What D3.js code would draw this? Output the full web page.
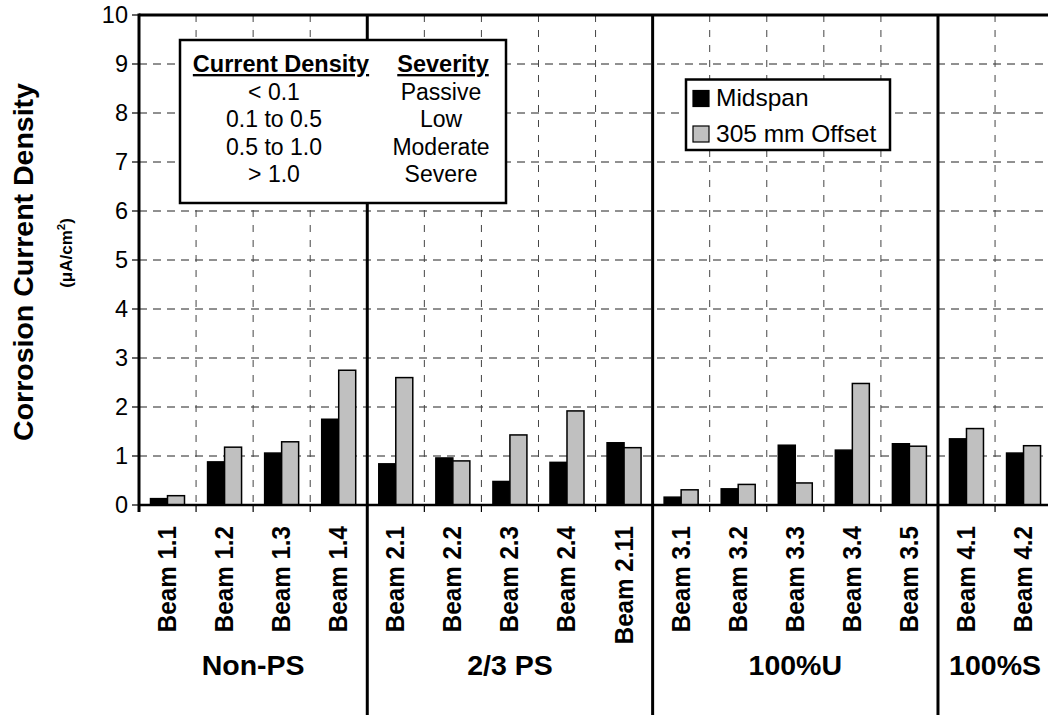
<!DOCTYPE html>
<html><head><meta charset="utf-8">
<script src="https://cdn.jsdelivr.net/npm/d3@7"></script>
<style>
html,body{margin:0;padding:0;background:#fff;}
svg{display:block;font-family:"Liberation Sans",Arial,sans-serif;}
</style></head>
<body><svg id="c" width="1048" height="715"></svg>
<script>
const categories = ["Beam 1.1","Beam 1.2","Beam 1.3","Beam 1.4","Beam 2.1","Beam 2.2","Beam 2.3","Beam 2.4","Beam 2.11","Beam 3.1","Beam 3.2","Beam 3.3","Beam 3.4","Beam 3.5","Beam 4.1","Beam 4.2"];
const groupNames = ["Non-PS","2/3 PS","100%U","100%S"];
const groupSizes = [4,5,5,2];
const seriesNames = ["Midspan","305 mm Offset"];
const midspan = [0.13,0.88,1.06,1.75,0.84,0.96,0.48,0.87,1.27,0.16,0.33,1.22,1.12,1.25,1.35,1.06];
const offset305 = [0.19,1.18,1.29,2.75,2.60,0.90,1.43,1.92,1.17,0.31,0.42,0.45,2.48,1.20,1.56,1.21];
const yTicks = [0,1,2,3,4,5,6,7,8,9,10];
const tableHeaders = ["Current Density","Severity"];
const densityRanges = ["< 0.1","0.1 to 0.5","0.5 to 1.0","> 1.0"];
const severities = ["Passive","Low","Moderate","Severe"];
const colors = ["#000000","#c0c0c0"];

const svg = d3.select("#c");
const L = 139, T = 15, B = 505, W = 57.07;
const R = L + W*categories.length;
const x = d3.scaleBand().domain(categories).range([L, R]).padding(0);
const x1 = d3.scaleBand().domain(seriesNames).range([11.5, 45.5]).padding(0);
const y = d3.scaleLinear().domain([0,10]).range([B, T]);

const groupStarts = [];
let acc = 0;
groupSizes.forEach(n => { groupStarts.push(acc); acc += n; });
const boundaryIdx = new Set(groupStarts.slice(1));

// horizontal dashed grid
svg.append("g").selectAll("line").data(yTicks.filter(t => t > 0 && t < 10)).join("line")
  .attr("x1", L).attr("x2", R).attr("y1", d => y(d)).attr("y2", d => y(d))
  .attr("stroke", "#222").attr("stroke-width", 1).attr("stroke-dasharray", "8,6");

// vertical dashed grid
const inner = d3.range(1, categories.length).filter(i => !boundaryIdx.has(i));
svg.append("g").selectAll("line").data(inner).join("line")
  .attr("x1", i => x(categories[i])).attr("x2", i => x(categories[i]))
  .attr("y1", T).attr("y2", B)
  .attr("stroke", "#444").attr("stroke-width", 1).attr("stroke-dasharray", "7,8");

// bars
const data = categories.map((c, i) => ({c, vals: [midspan[i], offset305[i]]}));
const g = svg.append("g").selectAll("g").data(data).join("g")
  .attr("transform", d => `translate(${x(d.c)},0)`);
g.selectAll("rect").data(d => d.vals.map((v, k) => ({k, v}))).join("rect")
  .attr("x", d => x1(seriesNames[d.k]))
  .attr("width", x1.bandwidth())
  .attr("y", d => y(d.v))
  .attr("height", d => B - y(d.v))
  .attr("fill", d => colors[d.k])
  .attr("stroke", "#000").attr("stroke-width", 1.5);

// x ticks
svg.append("g").selectAll("line").data(inner).join("line")
  .attr("x1", i => x(categories[i])).attr("x2", i => x(categories[i]))
  .attr("y1", B).attr("y2", B + 7).attr("stroke", "#000").attr("stroke-width", 1.2);

// axis lines
svg.append("line").attr("x1", L).attr("x2", R).attr("y1", B).attr("y2", B).attr("stroke", "#000").attr("stroke-width", 2.5);
svg.append("line").attr("x1", L).attr("x2", R).attr("y1", T).attr("y2", T).attr("stroke", "#000").attr("stroke-width", 3);
svg.append("line").attr("x1", L).attr("x2", L).attr("y1", T - 1.5).attr("y2", B + 7).attr("stroke", "#000").attr("stroke-width", 3);

// group dividers
svg.append("g").selectAll("line").data(groupStarts.slice(1)).join("line")
  .attr("x1", i => x(categories[i])).attr("x2", i => x(categories[i]))
  .attr("y1", T).attr("y2", 715).attr("stroke", "#000").attr("stroke-width", 3);

// y ticks
const ya = svg.append("g");
ya.selectAll("line").data(yTicks).join("line")
  .attr("x1", L - 7).attr("x2", L).attr("y1", d => y(d)).attr("y2", d => y(d))
  .attr("stroke", "#000").attr("stroke-width", 1.2);
ya.selectAll("text").data(yTicks).join("text")
  .attr("x", L - 11).attr("y", d => y(d)).attr("dy", "0.36em")
  .attr("text-anchor", "end").attr("font-size", 23.5).text(d => d);

// category labels
svg.append("g").selectAll("text").data(categories).join("text")
  .attr("transform", d => `translate(${x(d) + W/2 - 1},526) rotate(-90) scale(1,1.08)`)
  .attr("dy", "0.36em").attr("text-anchor", "end")
  .attr("font-size", 24.2).attr("font-weight", "bold").text(d => d);

// group labels
svg.append("g").selectAll("text").data(groupNames).join("text")
  .attr("x", (d, i) => {
    const a = x(categories[groupStarts[i]]);
    const b = x(categories[groupStarts[i] + groupSizes[i] - 1]) + W;
    return (a + b) / 2;
  })
  .attr("y", 675).attr("text-anchor", "middle")
  .attr("font-size", 28.5).attr("font-weight", "bold").text(d => d);

// y title
svg.append("text").attr("transform", "translate(33,262) rotate(-90)")
  .attr("text-anchor", "middle").attr("font-size", 28.5).attr("font-weight", "bold")
  .text("Corrosion Current Density");
const sub = svg.append("text").attr("transform", "translate(72,253) rotate(-90)")
  .attr("text-anchor", "middle").attr("font-size", 17).attr("font-weight", "bold");
sub.append("tspan").text("(\u03BCA/cm");
sub.append("tspan").attr("font-size", 11.5).attr("dy", -7).text("2");
sub.append("tspan").attr("dy", 7).text(")");

// severity table
const tb = svg.append("g");
tb.append("rect").attr("x", 180).attr("y", 40).attr("width", 326).attr("height", 163)
  .attr("fill", "#fff").attr("stroke", "#000").attr("stroke-width", 2.5);
const colX = [281, 443];
tableHeaders.forEach((h, i) => {
  tb.append("text").attr("x", colX[i]).attr("y", 72).attr("text-anchor", "middle")
    .attr("font-size", 23.5).attr("font-weight", "bold").attr("text-decoration", "underline").text(h);
});
tb.selectAll("text.r1").data(densityRanges).join("text").attr("class", "r1")
  .attr("x", 274).attr("y", (d, i) => 100 + i * 27.4).attr("text-anchor", "middle")
  .attr("font-size", 23).text(d => d);
tb.selectAll("text.r2").data(severities).join("text").attr("class", "r2")
  .attr("x", 441).attr("y", (d, i) => 100 + i * 27.4).attr("text-anchor", "middle")
  .attr("font-size", 23).text(d => d);

// legend
const lg = svg.append("g");
lg.append("rect").attr("x", 686).attr("y", 79.5).attr("width", 204).attr("height", 70.5)
  .attr("fill", "#fff").attr("stroke", "#000").attr("stroke-width", 2.5);
seriesNames.forEach((s, i) => {
  lg.append("rect").attr("x", 693).attr("y", 90.5 + i * 35.5).attr("width", 16).attr("height", 16)
    .attr("fill", colors[i]).attr("stroke", "#000").attr("stroke-width", 1.2);
  lg.append("text").attr("x", 716).attr("y", 106 + i * 35.5).attr("font-size", 24.5).text(s);
});
</script></body></html>
